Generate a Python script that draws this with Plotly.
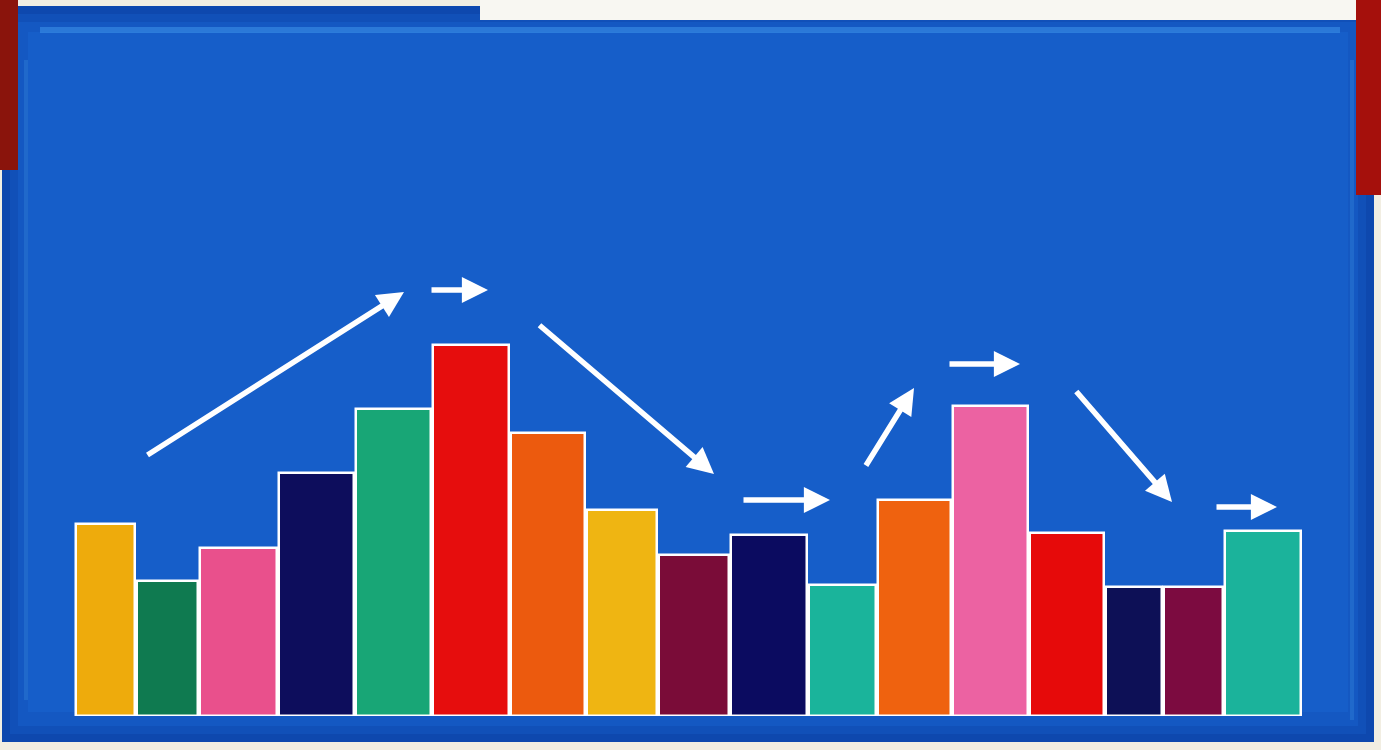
import plotly.graph_objects as go

# ---- data ----
categories = [f"C{i}" for i in range(1, 18)]
values = [19.2, 13.5, 16.8, 24.3, 30.7, 37.1, 28.3, 20.6, 16.1, 18.1, 13.1, 21.6, 31.0, 18.3, 12.9, 12.9, 18.5]
widths = [5.9, 6.1, 7.7, 7.5, 7.5, 7.6, 7.4, 7.0, 7.0, 7.6, 6.7, 7.3, 7.5, 7.4, 5.6, 5.9, 7.6]
colors = ["#eeab0c", "#0f7a50", "#e9508c", "#0d0d5c", "#18a676", "#e60d0d", "#ec5a0e",
          "#efb512", "#7a0c38", "#0b0b60", "#1ab49b", "#ef620f", "#ec62a2", "#e60a0a",
          "#0d1056", "#7c0b40", "#1bb39b"]
start_x = 7.6
gap = 0.2

# trend arrows: (tail_x, tail_y, head_x, head_y)
arrow_tail_x = [14.6, 43.0, 53.8, 74.2, 86.5, 94.8, 107.5, 121.5]
arrow_tail_y = [26.0, 42.6, 39.2, 21.6, 24.9, 35.2, 32.6, 20.9]
arrow_head_x = [40.4, 48.8, 71.4, 83.0, 91.4, 102.0, 117.2, 127.7]
arrow_head_y = [42.4, 42.6, 24.2, 21.6, 32.8, 35.2, 21.4, 20.9]

# bar centres from widths
centers = []
pos = start_x
for w in widths:
    centers.append(pos + w / 2)
    pos += w + gap

fig = go.Figure()
fig.add_trace(go.Bar(
    x=centers, y=values, width=widths,
    marker=dict(color=colors, line=dict(color="white", width=2.5)),
    hovertext=categories, showlegend=False,
))

for tx, ty, hx, hy in zip(arrow_tail_x, arrow_tail_y, arrow_head_x, arrow_head_y):
    fig.add_annotation(x=hx, y=hy, ax=tx, ay=ty, xref="x", yref="y", axref="x", ayref="y",
                       text="", showarrow=True, arrowhead=2, arrowsize=0.95, arrowwidth=5.5,
                       arrowcolor="white", standoff=0, startstandoff=0)

W, H = 1381, 750
B = 34
PH = H - B
def px(x):
    return x / W
def py(y):
    return (PH - y) / PH

def rect(x0, x1, y0, y1, color, opacity=1.0):
    return dict(type="rect", xref="paper", yref="paper", x0=px(x0), x1=px(x1),
                y0=py(y1), y1=py(y0), fillcolor=color, opacity=opacity,
                line=dict(width=0), layer="below")

shapes = [
    # board with softly darker edge
    rect(2, 1374, 6, 742, "#0e48ae"),
    rect(10, 1366, 14, 734, "#1150b8"),
    rect(18, 1358, 22, 726, "#1458c2"),
    rect(28, 1348, 32, 712, "#165ec9"),
    # lighter frayed edges
    dict(type="line", xref="paper", yref="paper", x0=px(40), x1=px(1340), y0=py(30), y1=py(30),
         line=dict(color="#3f95ea", width=6), layer="below", opacity=0.55),
    dict(type="line", xref="paper", yref="paper", x0=px(26), x1=px(26), y0=py(60), y1=py(700),
         line=dict(color="#2f7fd8", width=4), layer="below", opacity=0.45),
    dict(type="line", xref="paper", yref="paper", x0=px(1352), x1=px(1352), y0=py(60), y1=py(720),
         line=dict(color="#2f7fd8", width=4), layer="below", opacity=0.45),
    # top white strip
    rect(480, 1356, -5, 20, "#f8f7f2"),
    # red corners
    rect(-5, 18, -5, 170, "#8a140c"),
    rect(1356, 1390, -5, 195, "#a5100c"),
]

fig.update_layout(
    width=W, height=H,
    margin=dict(l=0, r=0, t=0, b=B),
    paper_bgcolor="#f2eee2",
    plot_bgcolor="rgba(0,0,0,0)",
    shapes=shapes,
    bargap=0,
    xaxis=dict(range=[0, 138.1], visible=False, fixedrange=True),
    yaxis=dict(range=[0, 71.6], visible=False, fixedrange=True),
    showlegend=False,
)

fig.write_html("out.html")
